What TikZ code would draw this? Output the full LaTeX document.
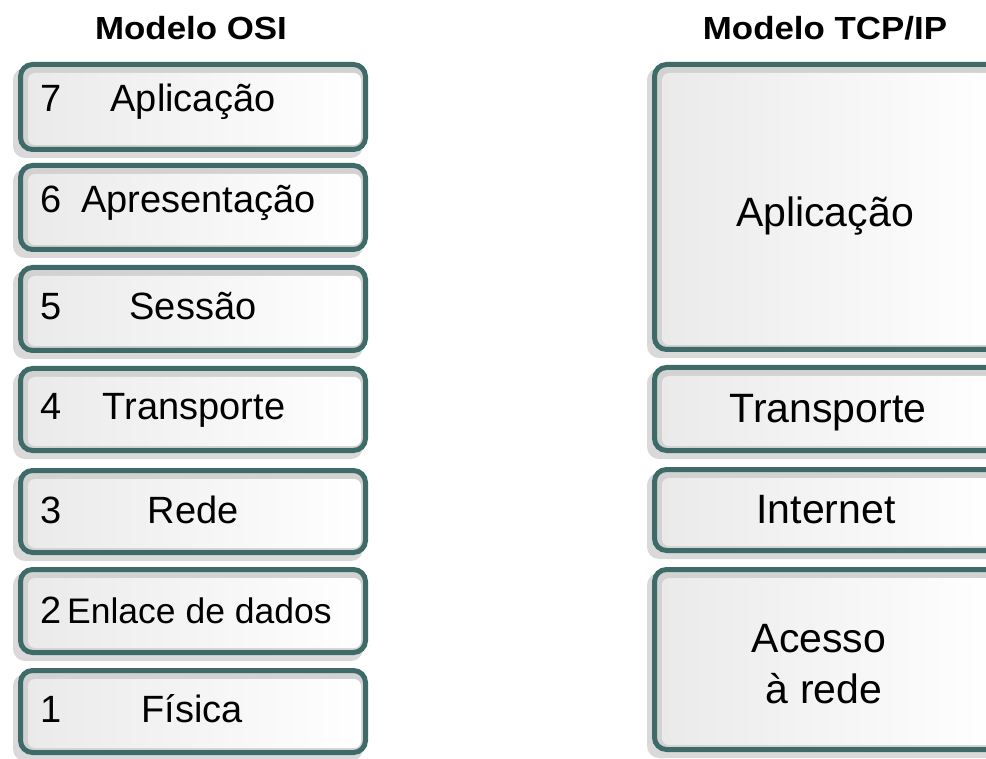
\documentclass[tikz,border=0pt]{standalone}
\usepackage{fontspec}
\setmainfont{Liberation Sans}
\definecolor{boxteal}{HTML}{3E6B68}
\definecolor{ringgray}{HTML}{D2D2D2}
\definecolor{innerl}{HTML}{EAEAEA}
\definecolor{shadowgray}{HTML}{D9D9D9}
\tikzset{
  layerbox/.style={draw=boxteal, line width=5pt, rounded corners=12pt, fill=ringgray, inner sep=0pt},
  innerbox/.style={rounded corners=7pt, left color=innerl, right color=white, inner sep=0pt, draw=none},
  shadowbox/.style={fill=shadowgray, rounded corners=12pt, inner sep=0pt, draw=none},
  lbl/.style={font=\fontsize{38}{40}\selectfont, inner sep=0pt, anchor=base},
  rlbl/.style={font=\fontsize{41}{43}\selectfont, inner sep=0pt, anchor=base},
  num/.style={font=\fontsize{38}{40}\selectfont, inner sep=0pt, anchor=base west},
  ttl/.style={font=\fontsize{32}{34}\selectfont\bfseries, inner sep=0pt, anchor=base},
}
% name, x1, y1, x2, y2
\newcommand\layerat[5]{%
  \node[shadowbox, minimum width={#4pt-#2pt}, minimum height={#5pt-#3pt}]
     (#1s) at ({(#2+#4)/2-5}, {(#3+#5)/2+6}) {};
  \node[layerbox, minimum width={#4pt-#2pt-5pt}, minimum height={#5pt-#3pt-5pt}]
     (#1) at ({(#2+#4)/2}, {(#3+#5)/2}) {};
  \node[innerbox, minimum width={#4pt-#2pt-17pt}, minimum height={#5pt-#3pt-18pt}]
     (#1i) at ({(#2+#4)/2+1.5}, {(#3+#5)/2+2}) {};
}
\begin{document}
\begin{tikzpicture}[x=1pt,y=-1pt]
\useasboundingbox (0,0) rectangle (986,759);
\fill[white] (0,0) rectangle (986,759);
\clip (0,0) rectangle (986,759);

% titles
\node[ttl] (tosi) at (191,40) {\scalebox{1.09}[1]{Modelo OSI}};
\node[ttl] (ttcp) at (825,40) {\scalebox{1.09}[1]{Modelo TCP/IP}};

% OSI layers
\layerat{o7}{18}{62}{368}{152}
\layerat{o6}{18}{163}{368}{252}
\layerat{o5}{18}{265}{368}{353}
\layerat{o4}{18}{366}{368}{453}
\layerat{o3}{18}{468}{368}{555}
\layerat{o2}{18}{567}{368}{655}
\layerat{o1}{18}{668}{368}{755}

\node[num] (n7) at (40,112) {7};
\node[lbl] (l7) at (193,112) {Aplicação};
\node[num] (n6) at (40,213) {6};
\node[num] (l6) at (81,213) {Apresentação};
\node[num] (n5) at (40,320) {5};
\node[lbl] (l5) at (193,320) {Sessão};
\node[num] (n4) at (40,420) {4};
\node[lbl] (l4) at (194,420) {Transporte};
\node[num] (n3) at (40,523) {3};
\node[lbl] (l3) at (193,523) {Rede};
\node[num] (n2) at (40,623) {2};
\node[num, font=\fontsize{35.5}{38}\selectfont] (l2) at (67,623) {Enlace de dados};
\node[num] (n1) at (40,722) {1};
\node[lbl] (l1) at (192,722) {Física};

% TCP/IP layers
\layerat{t4}{652}{62}{1004}{352}
\layerat{t3}{652}{365}{1004}{453}
\layerat{t2}{652}{467}{1004}{553}
\layerat{t1}{652}{567}{1004}{752}

\node[rlbl] (r4) at (825,227) {Aplicação};
\node[rlbl] (r3) at (828,422) {Transporte};
\node[rlbl] (r2) at (826,523) {Internet};
\node[rlbl] (r1a) at (819,652) {Acesso};
\node[rlbl] (r1b) at (824,703) {à rede};
\end{tikzpicture}
\end{document}
